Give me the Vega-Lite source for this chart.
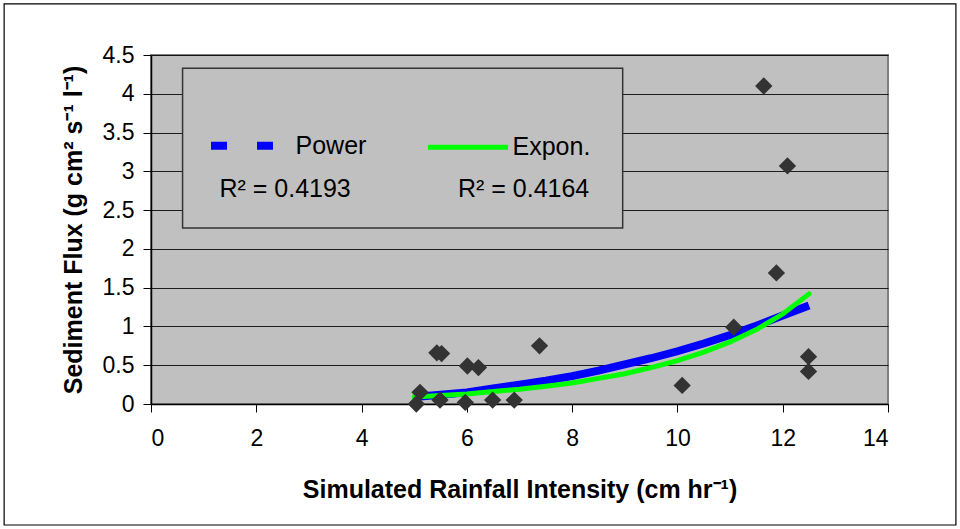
{
  "$schema": "https://vega.github.io/schema/vega-lite/v6.json",
  "width": 737,
  "height": 349,
  "autosize": {"type": "none"},
  "padding": {"left": 151, "top": 55, "right": 72, "bottom": 125},
  "background": "white",
  "config": {
    "view": {"fill": "#C0C0C0", "stroke": "#808080", "strokeWidth": 2},
    "font": "Liberation Sans",
    "axis": {
      "tickSize": 8,
      "tickColor": "#000000",
      "domainColor": "#000000",
      "domainWidth": 1.5,
      "labelFontSize": 23,
      "labelColor": "#000000",
      "labelFont": "Liberation Sans",
      "titleFont": "Liberation Sans",
      "titleFontWeight": "bold",
      "titleColor": "#000000",
      "labelOverlap": false
    },
    "axisX": {
      "grid": false,
      "labelPadding": 15,
      "titleFontSize": 25,
      "titleX": 368.5,
      "titleY": 93,
      "titleAlign": "center",
      "titleBaseline": "alphabetic"
    },
    "axisY": {
      "grid": true,
      "gridColor": "#000000",
      "gridWidth": 1,
      "gridOpacity": 0.85,
      "labelPadding": 9,
      "titleFontSize": 25,
      "titleX": -69.5,
      "titleY": 174.5,
      "titleAngle": -90,
      "titleAlign": "center",
      "titleBaseline": "alphabetic"
    },
    "legend": {
      "orient": "none",
      "legendX": 87.5,
      "legendY": 78,
      "direction": "horizontal",
      "symbolType": "stroke",
      "symbolSize": 6400,
      "symbolStrokeWidth": 8,
      "labelFontSize": 25,
      "labelFont": "Liberation Sans",
      "labelColor": "#000000",
      "labelOffset": 32,
      "columnPadding": 51,
      "padding": 0,
      "labelLimit": 300
    }
  },
  "datasets": {
    "points": [
      {"x": 5.04, "y": 0.0},
      {"x": 5.11, "y": 0.15},
      {"x": 5.43, "y": 0.66},
      {"x": 5.52, "y": 0.65},
      {"x": 5.49, "y": 0.05},
      {"x": 5.97, "y": 0.02},
      {"x": 6.01, "y": 0.49},
      {"x": 6.22, "y": 0.47},
      {"x": 6.49, "y": 0.05},
      {"x": 6.9, "y": 0.05},
      {"x": 7.38, "y": 0.75},
      {"x": 10.09, "y": 0.24},
      {"x": 11.07, "y": 0.99},
      {"x": 11.64, "y": 4.1},
      {"x": 11.88, "y": 1.69},
      {"x": 12.09, "y": 3.07},
      {"x": 12.49, "y": 0.61},
      {"x": 12.49, "y": 0.42}
    ],
    "curves": [
      {"series": "Power", "x": 5.0, "y": 0.09},
      {"series": "Power", "x": 5.5, "y": 0.12},
      {"series": "Power", "x": 6.0, "y": 0.15},
      {"series": "Power", "x": 6.5, "y": 0.2},
      {"series": "Power", "x": 7.0, "y": 0.25},
      {"series": "Power", "x": 7.5, "y": 0.3},
      {"series": "Power", "x": 8.0, "y": 0.36},
      {"series": "Power", "x": 8.5, "y": 0.43},
      {"series": "Power", "x": 9.0, "y": 0.51},
      {"series": "Power", "x": 9.5, "y": 0.59},
      {"series": "Power", "x": 10.0, "y": 0.68},
      {"series": "Power", "x": 10.5, "y": 0.78},
      {"series": "Power", "x": 11.0, "y": 0.89},
      {"series": "Power", "x": 11.5, "y": 1.01},
      {"series": "Power", "x": 12.0, "y": 1.14},
      {"series": "Power", "x": 12.5, "y": 1.27},
      {"series": "Expon.", "x": 5.0, "y": 0.09},
      {"series": "Expon.", "x": 5.5, "y": 0.11},
      {"series": "Expon.", "x": 6.0, "y": 0.13},
      {"series": "Expon.", "x": 6.5, "y": 0.16},
      {"series": "Expon.", "x": 7.0, "y": 0.19},
      {"series": "Expon.", "x": 7.5, "y": 0.23},
      {"series": "Expon.", "x": 8.0, "y": 0.27},
      {"series": "Expon.", "x": 8.5, "y": 0.33},
      {"series": "Expon.", "x": 9.0, "y": 0.39},
      {"series": "Expon.", "x": 9.5, "y": 0.47},
      {"series": "Expon.", "x": 10.0, "y": 0.56},
      {"series": "Expon.", "x": 10.5, "y": 0.67},
      {"series": "Expon.", "x": 11.0, "y": 0.8},
      {"series": "Expon.", "x": 11.5, "y": 0.96},
      {"series": "Expon.", "x": 12.0, "y": 1.16},
      {"series": "Expon.", "x": 12.5, "y": 1.42}
    ],
    "frame": [{"x": -2.79, "x2": 15.29, "y": -1.56, "y2": 5.158}],
    "box": [{"x": 0.6, "x2": 8.96, "y": 2.27, "y2": 4.33}],
    "labels": [
      {"x": 1.3, "y": 2.67, "label": "R² = 0.4193"},
      {"x": 5.83, "y": 2.67, "label": "R² = 0.4164"}
    ]
  },
  "encoding": {
    "x": {
      "field": "x", "type": "quantitative",
      "scale": {"domain": [0, 14], "nice": false, "zero": false},
      "axis": {
        "values": [0, 2, 4, 6, 8, 10, 12, 14],
        "title": "Simulated Rainfall Intensity (cm hr⁻¹)"
      }
    },
    "y": {
      "field": "y", "type": "quantitative",
      "scale": {"domain": [0, 4.5], "nice": false, "zero": false},
      "axis": {
        "values": [0, 0.5, 1, 1.5, 2, 2.5, 3, 3.5, 4, 4.5],
        "labelExpr": "'' + datum.value",
        "title": "Sediment Flux (g cm² s⁻¹ l⁻¹)"
      }
    }
  },
  "layer": [
    {
      "data": {"name": "frame"},
      "mark": {"type": "rect", "fill": null, "stroke": "#000000", "strokeWidth": 1.2, "clip": false},
      "encoding": {
        "x2": {"field": "x2"},
        "y2": {"field": "y2"}
      }
    },
    {
      "data": {"name": "box"},
      "mark": {"type": "rect", "fill": "#C0C0C0", "stroke": "#333333", "strokeWidth": 1.5},
      "encoding": {
        "x2": {"field": "x2"},
        "y2": {"field": "y2"}
      }
    },
    {
      "data": {"name": "curves"},
      "transform": [{"filter": "datum.series === 'Power'"}],
      "mark": {"type": "line", "strokeWidth": 8, "strokeCap": "butt"},
      "encoding": {
        "color": {
          "field": "series", "type": "nominal",
          "scale": {"domain": ["Power", "Expon."], "range": ["#0000FF", "#00FF00"]},
          "legend": {
            "title": null,
            "encode": {
              "symbols": {
                "update": {
                  "strokeDash": {"signal": "datum.value === 'Power' ? [16, 30] : [80, 0]"},
                  "strokeWidth": {"signal": "datum.value === 'Power' ? 8 : 5"}
                }
              }
            }
          }
        }
      }
    },
    {
      "data": {"name": "curves"},
      "transform": [{"filter": "datum.series === 'Expon.'"}],
      "mark": {"type": "line", "strokeWidth": 5, "strokeCap": "round"},
      "encoding": {
        "color": {"field": "series", "type": "nominal"}
      }
    },
    {
      "data": {"name": "points"},
      "mark": {"type": "point", "shape": "diamond", "size": 300, "filled": true, "fill": "#333333", "opacity": 1, "strokeWidth": 0}
    },
    {
      "data": {"name": "labels"},
      "mark": {"type": "text", "align": "left", "baseline": "alphabetic", "fontSize": 25, "font": "Liberation Sans", "color": "#000000"},
      "encoding": {
        "text": {"field": "label"}
      }
    }
  ]
}
